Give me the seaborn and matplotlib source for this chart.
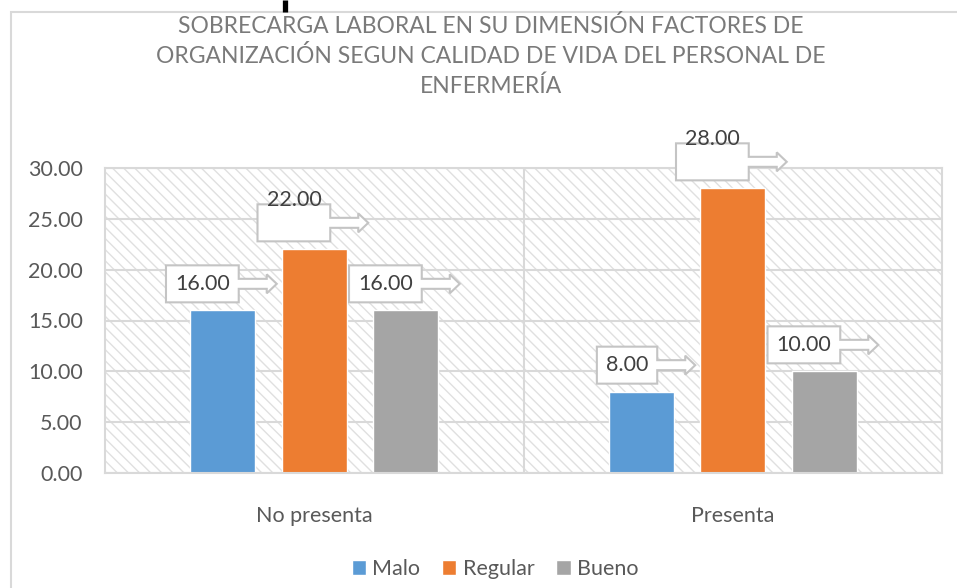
import numpy as np
import pandas as pd
import matplotlib.pyplot as plt
import matplotlib.patches as mpatches
from matplotlib.lines import Line2D
from matplotlib.transforms import IdentityTransform
import seaborn as sns

# datos
categorias = ['No presenta', 'Presenta']
niveles = ['Malo', 'Regular', 'Bueno']
malo = [16.0, 8.0]
regular = [22.0, 28.0]
bueno = [16.0, 10.0]
yticks = [0, 5, 10, 15, 20, 25, 30]

colores = ['#5B9BD5', '#ED7D31', '#A5A5A5']
titulo = ('SOBRECARGA LABORAL EN SU DIMENSIÓN FACTORES DE\n'
          'ORGANIZACIÓN SEGUN CALIDAD DE VIDA DEL PERSONAL DE\n'
          'ENFERMERÍA')

df = pd.DataFrame({
    'categoria': categorias * 3,
    'nivel': np.repeat(niveles, len(categorias)),
    'valor': malo + regular + bueno,
})

sns.set_theme(style='white')
plt.rcParams['font.family'] = ['Lato', 'DejaVu Sans']
plt.rcParams['hatch.linewidth'] = 1.0

gris = '#d9d9d9'
texto = '#595959'

fig = plt.figure(figsize=(9.57, 5.88), dpi=100)
ax = fig.add_axes([105 / 957, 115 / 588, 837 / 957, 305 / 588])

# fondo rayado del area de trazado
ax.add_patch(mpatches.Rectangle((0, 0), 1, 1, transform=ax.transAxes,
                                facecolor='white', edgecolor='#e0e0e0',
                                hatch='\\' * 3, lw=0, zorder=0.1))

sns.barplot(data=df, x='categoria', y='valor', hue='nivel',
            order=categorias, hue_order=niveles, palette=colores,
            saturation=1, width=0.656, gap=0.29, errorbar=None,
            ax=ax, zorder=2)

handles, labels = ax.get_legend_handles_labels()
ax.get_legend().remove()

ax.set_xlim(-0.5, 1.5)
ax.set_ylim(0, 30)
ax.set_yticks(yticks, [f'{v:.2f}' for v in yticks])
ax.set_xticks([0.5], minor=True)
ax.set_xlabel('')
ax.set_ylabel('')
ax.yaxis.grid(True, color=gris, lw=1.5, zorder=0.5)
ax.xaxis.grid(True, which='minor', color=gris, lw=1.5, zorder=0.5)
ax.set_axisbelow(True)
for s in ax.spines.values():
    s.set_visible(True)
    s.set_color(gris)
    s.set_linewidth(1.5)
ax.tick_params(axis='both', which='both', length=0, labelsize=15.5, colors=texto)
ax.tick_params(axis='y', pad=16)
ax.tick_params(axis='x', pad=24)

fig.text(491 / 957, 1 - 15 / 588, titulo, ha='center', va='top',
         fontsize=16.5, color='#7a7a7a', linespacing=1.47)

fig.legend(handles, labels, loc='center', bbox_to_anchor=(495 / 957, 19 / 588),
           ncol=3, frameon=False, fontsize=15.5, labelcolor=texto,
           handlelength=0.67, handleheight=0.67, handletextpad=0.3,
           columnspacing=1.0)

# etiquetas tipo llamada con flecha
fig.canvas.draw()
renderer = fig.canvas.get_renderer()
ident = IdentityTransform()
for nivel, barras in zip(niveles, ax.containers):
    for barra in barras:
        h = barra.get_height()
        xc = barra.get_x() + barra.get_width() / 2
        X, Y = ax.transData.transform((xc, h))
        t = ax.text(0, 0, f'{h:.2f}', transform=ident, ha='center', va='center',
                    fontsize=15.5, color='#404040', zorder=6, clip_on=False)
        w = t.get_window_extent(renderer).width
        R = X + 16
        L = R - (w + 18)
        B = Y + 8
        T = B + 37
        yc = (B + T) / 2
        tip = R + 38
        hb = tip - 10
        pts = [(L, B), (R, B), (R, yc - 5), (hb, yc - 5), (hb, yc - 9.5),
               (tip, yc), (hb, yc + 9.5), (hb, yc + 5), (R, yc + 5),
               (R, T), (L, T)]
        ax.add_patch(mpatches.Polygon(pts, closed=True, transform=ident,
                                      facecolor='white', edgecolor='#c4c4c4',
                                      lw=1.5, zorder=5, clip_on=False))
        ty = T + 4 if nivel == 'Regular' else yc
        t.set_position(((L + R) / 2, ty))

# borde exterior del grafico
fig.add_artist(mpatches.Rectangle((11 / 957, -0.05), 1.0, 576 / 588 + 0.05,
                                  transform=fig.transFigure, fill=False,
                                  edgecolor=gris, lw=1.5))
# trazo del texto del documento que queda cortado arriba
fig.add_artist(Line2D([284.5 / 957, 284.5 / 957], [1.0, 1 - 12 / 588],
                      transform=fig.transFigure, color='black', lw=3.8,
                      solid_capstyle='butt'))

fig.savefig('out.png', dpi=100)
